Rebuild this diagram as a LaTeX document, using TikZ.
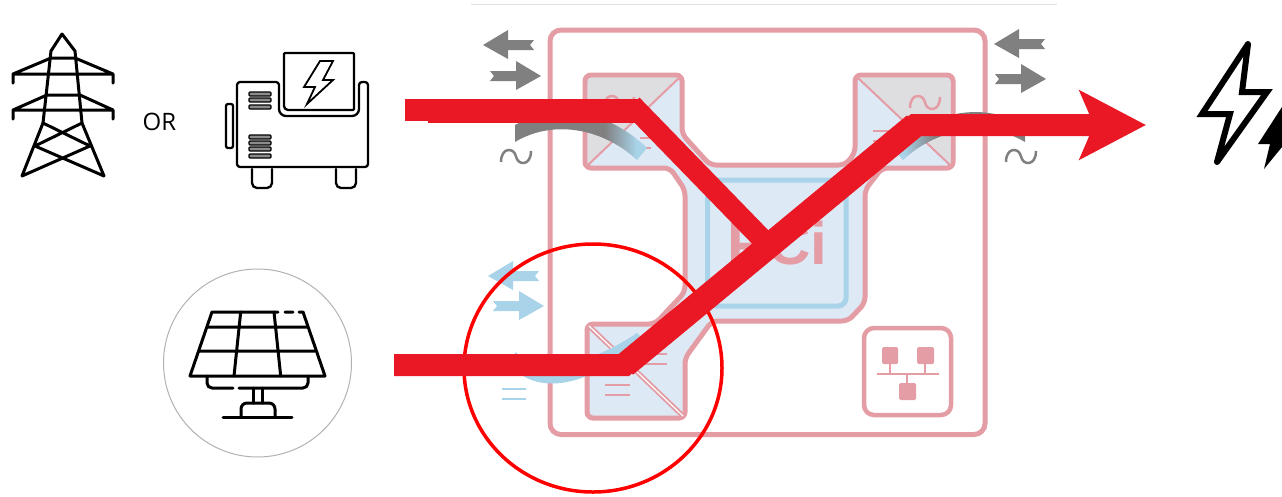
\documentclass[tikz,border=0pt]{standalone}
\usepackage{fontspec}
\setmainfont{Open Sans}
\newfontfamily\pcifont{Liberation Sans}
\usetikzlibrary{arrows.meta}
\definecolor{flowred}{RGB}{234,24,36}
\definecolor{ringred}{RGB}{255,0,0}
\definecolor{pvpink}{RGB}{228,156,165}
\definecolor{pvblue}{RGB}{221,233,245}
\definecolor{pvsky}{RGB}{168,211,233}
\definecolor{pvgray}{RGB}{128,128,128}
\definecolor{pvshade}{RGB}{222,222,225}
\pgfdeclarehorizontalshading{arcfade}{100bp}{color(0bp)=(pvgray); color(59bp)=(pvgray); color(71bp)=(pvsky); color(100bp)=(pvsky)}
\newcommand{\flowarrow}[3][]{\fill[shift={(#2,#3)},#1] (0,0) -- (25,-15) -- (25,-5) -- (51,-5) -- (47,0) -- (51,5) -- (25,5) -- (25,14) -- cycle;}
\newcommand{\acsign}[3][]{\draw[shift={(#2,#3)},line width=2.5pt,#1] (0,12) .. controls (0,-3) and (13,-3) .. (15,6.5) .. controls (17,16) and (30,16) .. (30,1);}
\newcommand{\dcsign}[4][]{\draw[line width=2.5pt,#1] (#2,#4) -- (#3,#4) (#2,#4+10) -- (#3,#4+10);}

\begin{document}
\begin{tikzpicture}[
		x=1pt, y=-1pt,
		frame/.style={draw=pvpink, line width=5pt, rounded corners=11pt},
		flow/.style={draw=flowred, line width=24pt, miter limit=10},
		icon/.style={draw=black, line width=3pt, line join=round, line cap=round},
		thinicon/.style={icon, line width=2.3pt}
		]
		\useasboundingbox (0,0) rectangle (1282,496);
		
		% INVERTER SKETCH (Faded, Middle)
		\draw[black!12, line width=1pt] (471,4) -- (1057,4);
		\draw[frame] (550,30) rectangle (985,434.5);
		\path[fill=pvblue, frame, rounded corners=6pt] (585,75) -- (682,75) -- (682,134) -- (710,165) -- (845,165) -- (855,153) -- (855,75) -- (953,75) -- (953,168) -- (882,168) -- (865,190) -- (865,303) -- (848,321) -- (712,321) -- (685,358) -- (685,418) -- (587,418) -- (587,324) -- (655,324) -- (685,292) -- (685,190) -- (670,168) -- (585,168) -- cycle;
		\fill[pvshade] (587.5,165.5) [rounded corners=5pt] -- (587.5,77.5) [sharp corners] -- (679.5,77.5) -- cycle;
		\fill[pvshade] (950.5,165.5) [rounded corners=5pt] -- (950.5,77.5) [sharp corners] -- (857.5,77.5) -- cycle;
		\draw[pvsky, line width=5pt, rounded corners=8pt] (707.5,180) rectangle (846,306);
		\draw[pvpink, line width=2pt] (680,77) -- (587,166);
		\draw[pvpink, line width=2pt] (857,77) -- (951,166);
		\draw[pvpink, line width=5pt] (589,326) -- (683,416);
		\draw[white, line width=1.2pt] (589,326) -- (683,416);
		\node[text=pvpink, font=\pcifont\bfseries\fontsize{60}{60}\selectfont, inner sep=0pt] (pcilabel) at (777,243) {PCi};
		
		% CONVERTER SIGNS
		\acsign[pvpink]{604}{96}
		\acsign[pvpink]{910}{96}
		\dcsign[pvpink]{640}{651}{138}
		\dcsign[pvpink]{873}{890}{131}
		\dcsign[pvpink]{605}{630}{385}
		\dcsign[pvpink]{640}{667}{354}
		
		% POWER FLOW MARKS
		\shade[shading=arcfade] (515,125) .. controls (555,103) and (605,108) .. (647,148) -- (637,160) .. controls (605,130) and (555,118) .. (515,142) -- cycle;
		\shade[shading=arcfade, shading angle=180] (1025,125) .. controls (985,103) and (935,108) .. (893,148) -- (903,160) .. controls (935,130) and (985,118) .. (1025,142) -- cycle;
		\fill[pvsky] (515,352) .. controls (540,372) and (585,368) .. (637,333) -- (640,336) .. controls (590,392) and (535,392) .. (515,369) -- cycle;
		\flowarrow[pvgray]{483}{45}
		\flowarrow[pvgray, xscale=-1]{541}{76}
		\flowarrow[pvgray]{994}{44}
		\flowarrow[pvgray, xscale=-1]{1046}{79}
		\flowarrow[pvsky]{488}{276}
		\flowarrow[pvsky, xscale=-1]{544}{306}
		\acsign[pvgray]{501}{150}
		\acsign[pvgray]{1006}{150}
		\dcsign[pvsky]{502}{526}{389}
		
		% NETWORK BADGE (Bottom Right)
		\draw[pvpink, line width=4.5pt, rounded corners=10pt] (864,328) rectangle (951,415);
		\fill[pvpink, rounded corners=1.5pt] (882,347) rectangle (898,364);
		\fill[pvpink, rounded corners=1.5pt] (917,347) rectangle (934,364);
		\fill[pvpink, rounded corners=1.5pt] (899,383) rectangle (916,400);
		\draw[pvpink, line width=2pt] (877,374) -- (939,374) (890,364) -- (890,374) (925,364) -- (925,374) (907,374) -- (907,383);
		
		% PYLON ICON (Top Left)
		\draw[icon] (43,123) -- (51,51) -- (62,34) -- (75,51) -- (82,123);
		\draw[icon] (43,123) -- (22,176) -- (90,146) -- (43,123) (82,123) -- (104,176) -- (35,146) -- (82,123);
		\draw[icon] (13,83) -- (13,74) -- (51,58) -- (75,58) -- (113,74) -- (113,83) (13,74) -- (113,74);
		\draw[icon] (13,119) -- (13,110) -- (47,95) -- (80,95) -- (113,110) -- (113,119) (13,110) -- (113,110);
		\node[font=\fontsize{24}{24}\selectfont, inner sep=0pt] (orlabel) at (159.5,122) {OR};
		
		% GENERATOR ICON (Top)
		\draw[thinicon, rounded corners=3pt] (237,167) -- (237,82) -- (279,82) [rounded corners=7pt] -- (279,116) -- (359,116) [rounded corners=3pt] -- (359,82) -- (368,82) -- (368,167) -- cycle;
		\draw[thinicon, rounded corners=4pt] (284,110) [rounded corners=1pt] -- (284,53) -- (354,53) -- (354,110) [rounded corners=4pt] -- cycle;
		\draw[line width=1.8pt, line join=miter] (320,61) -- (333,61) -- (323,80) -- (333,80) -- (307,104) -- (315,87) -- (304,87) -- cycle;
		\draw[thinicon, rounded corners=2pt] (226,104) rectangle (233,148);
		\foreach \venty in {94,100,107,137,143,149,156}
			\draw[line width=1.2pt, fill=black!45, rounded corners=1pt] (249,\venty-2) rectangle (271,\venty+2);
		\foreach \footx in {252,336}
			\draw[thinicon, rounded corners=5pt] (\footx,169) -- (\footx,188) -- (\footx+20,188) -- (\footx+20,169);
		
		% SOLAR ICON (Bottom Left)
		\node[draw=black!30, line width=1pt, circle, minimum size=188pt, inner sep=0pt] (solarring) at (257.5,363) {};
		\draw[icon] (278,312) -- (212,312) -- (190,376) -- (325,376) -- (303,312) -- (299,312) (285,312) -- (293,312);
		\draw[icon] (207,327) -- (307,327) (199,351) -- (315,351) (240.7,312) -- (234,376) (274,312) -- (280.7,376);
		\draw[icon, rounded corners=5pt] (207,376) -- (207,388) -- (233,388);
		\draw[icon, rounded corners=5pt] (239,388) -- (308,388) -- (308,376);
		\draw[icon] (253,388) -- (253,403) (262,388) -- (262,403) (223,417) -- (292,417);
		\draw[icon, rounded corners=6pt] (241,417) -- (241,403) -- (275,403) -- (275,417);
		
		% LOAD ICON (Right)
		\draw[line width=6pt, line join=miter, miter limit=3] (1248,44) -- (1202,114) -- (1230,114) -- (1217,162) -- (1267,92) -- (1242,92) -- cycle;
		\fill (1248,44) circle (3pt) (1217,162) circle (3pt);
		\fill (1280,110) -- (1258,144) -- (1270,144) -- (1264,169) -- (1282,147) -- (1282,107) -- cycle;
		
		% RING
		\draw[ringred, line width=3.5pt] (593,368) ellipse [x radius=129pt, y radius=124pt];
		
		% CONNECTIONS
		\coordinate (gridstub) at (405,110);
		\coordinate (gridjoin) at (428,110);
		\coordinate (gridin) at (428,111);
		\coordinate (gridbend) at (640,111);
		\coordinate (gridturn) at (632,105);
		\coordinate (gridend) at (768,245);
		\coordinate (solarin) at (394,365);
		\coordinate (solarbend) at (625,365);
		\coordinate (loadbend) at (915,125);
		\coordinate (loadout) at (1146,125);
		\draw[flow, line width=22pt] (gridstub) -- (gridjoin);
		\draw[flow] (gridin) -- (gridbend);
		\draw[flow, line width=21pt] (gridturn) -- (gridend);
		\draw[flow, line width=22pt, -{Stealth[length=66pt, width=68pt, inset=14pt]}] (solarin) -- (solarbend) -- (loadbend) -- (loadout);
		\draw[flow, line width=25pt] (solarbend) -- (loadbend);
		
	\end{tikzpicture}
\end{document}
